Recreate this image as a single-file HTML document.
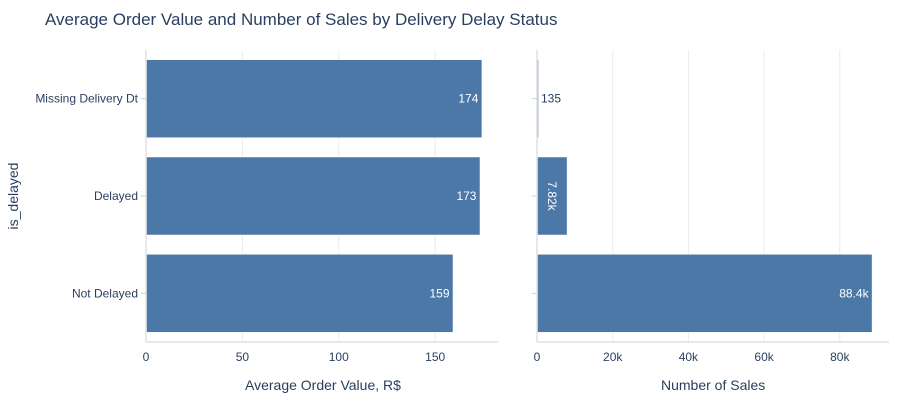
<!DOCTYPE html>
<html><head><meta charset="utf-8"><style>
body{margin:0;background:#fff;font-family:"Liberation Sans",sans-serif}
svg text{font-family:"Liberation Sans",sans-serif}
</style></head><body>
<svg id="c" width="900" height="400" xmlns="http://www.w3.org/2000/svg">
<text x="45" y="25" font-size="17" fill="#2a3f5f">Average Order Value and Number of Sales by Delivery Delay Status</text>
<text x="245" y="390" font-size="14" fill="#2a3f5f">Average Order Value, R$</text>
<text x="661" y="390" font-size="14" fill="#2a3f5f">Number of Sales</text>
<text transform="translate(18,196) rotate(-90)" text-anchor="middle" font-size="14" fill="#2a3f5f">is_delayed</text>
<g id="g"></g>
</svg>
<script>
var categories=["Missing Delivery Dt","Delayed","Not Delayed"];
var avgValues=[174,173,159];
var avgLabels=["174","173","159"];
var salesValues=[135,7820,88400];
var salesLabels=["135","7.82k","88.4k"];
var leftTicks=[0,50,100,150];
var leftTickLabels=["0","50","100","150"];
var rightTicks=[0,20000,40000,60000,80000];
var rightTickLabels=["0","20k","40k","60k","80k"];
(function(){
const NS="http://www.w3.org/2000/svg";
const g=document.getElementById('g');
function el(t,a,txt){const e=document.createElementNS(NS,t);for(const k in a)e.setAttribute(k,a[k]);if(txt!==undefined)e.textContent=txt;g.appendChild(e);return e;}
const plotTop=50,plotBot=342,band=(plotBot-plotTop)/categories.length;
const yc=i=>plotTop+band*(i+0.5);
const panels=[
 {x0:146,x1:498,max:182.6,vals:avgValues,labs:avgLabels,ticks:leftTicks,tl:leftTickLabels,name:'avg'},
 {x0:537,x1:889,max:93000,vals:salesValues,labs:salesLabels,ticks:rightTicks,tl:rightTickLabels,name:'sales'}
];
panels.forEach((p,pi)=>{
 const sx=v=>p.x0+v/p.max*(p.x1-p.x0);
 p.ticks.forEach((t,i)=>{
  if(t>0){const l=el('line',{x1:sx(t),x2:sx(t),y1:plotTop,y2:plotBot,stroke:'#ebebeb','stroke-width':1});
  
  }
  const tx=el('text',{x:sx(t),y:361,'text-anchor':'middle','font-size':12,fill:'#2a3f5f'},p.tl[i]);
  
  
 });
 const ax=el('line',{x1:p.x0,x2:p.x0,y1:plotTop,y2:plotBot,stroke:'#d0d0d0','stroke-width':1});
 
 
 const bx=el('line',{x1:p.x0,x2:p.x1,y1:plotBot,y2:plotBot,stroke:'#d0d0d0','stroke-width':1});
 
 
 categories.forEach((c,i)=>{
  const tk=el('line',{x1:p.x0-5,x2:p.x0,y1:yc(i),y2:yc(i),stroke:'#d0d0d0'});
  
  
  if(pi===0){const lab=el('text',{x:p.x0-8,y:yc(i)+4,'text-anchor':'end','font-size':12,fill:'#2a3f5f'},c);
   
   }
  const w=Math.max(sx(p.vals[i])-p.x0,1);
  const r=el('rect',{x:p.x0+0.5,y:yc(i)-39,width:w,height:78,fill:'#4c78a8',stroke:'#ffffff','stroke-width':0.5});
  
  
  let t;
  if(w<20){t=el('text',{x:p.x0+w+3,y:yc(i)+4,'font-size':12,fill:'#2a3f5f'},p.labs[i]);}
  else if(w<45){const cx=p.x0+w/2;t=el('text',{x:cx,y:yc(i),'font-size':12,fill:'#fff','text-anchor':'middle',transform:'rotate(90,'+cx+','+yc(i)+') translate(0,4)'},p.labs[i]);}
  else{t=el('text',{x:p.x0+w-3,y:yc(i)+4,'text-anchor':'end','font-size':12,fill:'#fff'},p.labs[i]);}
  
  
 });
});
})();
</script>
</body></html>
